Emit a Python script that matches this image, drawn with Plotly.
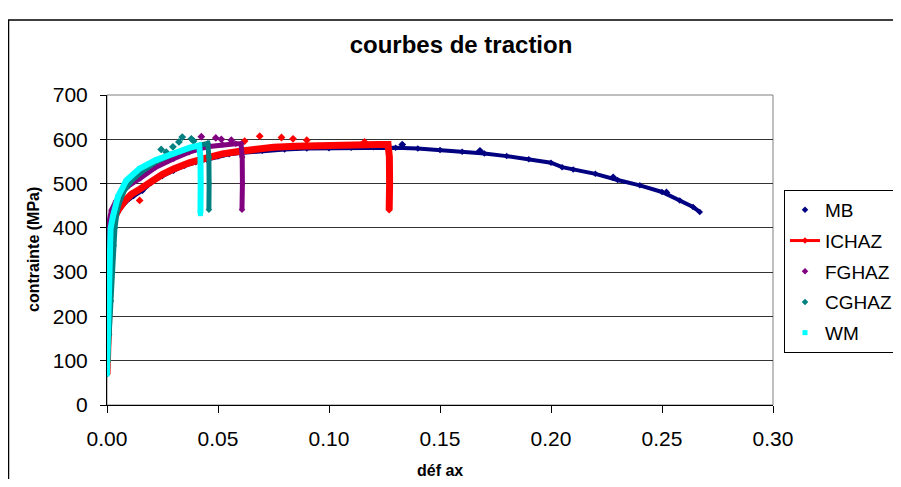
import plotly.graph_objects as go

FONT = "Liberation Sans, Arial, sans-serif"

# ---------------- data ----------------
MB_x = [0.0, 0.0003, 0.0005, 0.0008, 0.0012, 0.0018, 0.0028, 0.005, 0.008, 0.012, 0.016,
        0.02, 0.025, 0.03, 0.035, 0.04, 0.045, 0.05, 0.055, 0.06, 0.07, 0.08, 0.09,
        0.10, 0.11, 0.12, 0.13, 0.14, 0.15, 0.16, 0.17, 0.18, 0.19, 0.20, 0.205,
        0.21, 0.22, 0.23, 0.24, 0.25, 0.258, 0.264, 0.267]
MB_y = [70, 150, 230, 310, 360, 394, 413, 436, 456, 472, 484,
        502, 517, 529, 540, 548, 554, 561, 566, 569, 574, 577, 579,
        580, 581, 582, 581, 579, 576, 572, 568, 562, 555, 547, 537,
        532, 522, 508, 496, 481, 462, 447, 436]
MB_out_x = [0.1330, 0.1680, 0.1050, 0.2280, 0.2520]
MB_out_y = [588, 574, 585, 514, 480]

ICHAZ_x = [0.0, 0.0004, 0.0008, 0.0012, 0.0016, 0.002, 0.003, 0.005, 0.008, 0.011,
           0.015, 0.02, 0.025, 0.03, 0.037, 0.045, 0.052, 0.06, 0.067, 0.075, 0.085,
           0.095, 0.105, 0.115, 0.122, 0.1266, 0.1272, 0.1273, 0.1271]
ICHAZ_y = [70, 150, 240, 320, 370, 398, 418, 440, 461, 476,
           488, 506, 521, 533, 547, 558, 567, 573, 578, 582, 584,
           586, 587, 588, 588, 588, 560, 500, 440]
ICHAZ_out_x = [0.0688, 0.0786, 0.0838, 0.0147, 0.0620, 0.0900, 0.1160]
ICHAZ_out_y = [607, 604, 601, 462, 596, 598, 594]

FGHAZ_x = [0.0, 0.0004, 0.0007, 0.001, 0.002, 0.004, 0.007, 0.01, 0.015, 0.022,
           0.03, 0.037, 0.045, 0.052, 0.058, 0.0604, 0.0609, 0.061, 0.0608]
FGHAZ_y = [70, 200, 340, 415, 440, 460, 482, 496, 512, 537,
           556, 571, 583, 588, 590, 590, 560, 500, 441]
FGHAZ_out_x = [0.0425, 0.0490, 0.0515, 0.0560]
FGHAZ_out_y = [606, 603, 600, 598]

CGHAZ_x = [0.0, 0.0004, 0.001, 0.0018, 0.0025, 0.003, 0.0036, 0.0046, 0.006, 0.008,
           0.011, 0.015, 0.022, 0.03, 0.037, 0.042, 0.0454, 0.0459, 0.046, 0.0459]
CGHAZ_y = [70, 100, 160, 235, 300, 360, 400, 438, 463, 486,
           506, 524, 549, 567, 580, 587, 591, 560, 500, 441]
CGHAZ_out_x = [0.0244, 0.0267, 0.0297, 0.0324, 0.0339, 0.0380, 0.0390]
CGHAZ_out_y = [577, 571, 583, 594, 605, 601, 596]

WM_x = [0.0, 0.0003, 0.0008, 0.0012, 0.0016, 0.0026, 0.0049, 0.0087, 0.0147, 0.022,
        0.0297, 0.0372, 0.0415, 0.0421, 0.0422, 0.0421]
WM_y = [70, 130, 250, 340, 398, 424, 470, 507, 534, 553,
        568, 581, 586, 560, 500, 432]

X_TICKS = [0.0, 0.05, 0.10, 0.15, 0.20, 0.25, 0.30]
X_TICK_LABELS = ["0.00", "0.05", "0.10", "0.15", "0.20", "0.25", "0.30"]
Y_TICKS = [0, 100, 200, 300, 400, 500, 600, 700]
Y_TICK_LABELS = ["0", "100", "200", "300", "400", "500", "600", "700"]

# ---------------- figure ----------------
fig = go.Figure()

series = [
    ("MB", MB_x, MB_y, MB_out_x, MB_out_y, "#000080", 4, "diamond", "markers"),
    ("ICHAZ", ICHAZ_x, ICHAZ_y, ICHAZ_out_x, ICHAZ_out_y, "#FF0000", 7, "diamond", "lines+markers"),
    ("FGHAZ", FGHAZ_x, FGHAZ_y, FGHAZ_out_x, FGHAZ_out_y, "#800080", 5, "diamond", "markers"),
    ("CGHAZ", CGHAZ_x, CGHAZ_y, CGHAZ_out_x, CGHAZ_out_y, "#008080", 5, "diamond", "markers"),
    ("WM", WM_x, WM_y, [], [], "#00FFFF", 6, "square", "markers"),
]

for name, xs, ys, ox, oy, col, lw, sym, lmode in series:
    fig.add_trace(go.Scatter(x=xs, y=ys, mode="lines", name=name, legendgroup=name,
                             showlegend=False, line=dict(color=col, width=lw),
                             hoverinfo="skip"))
    fig.add_trace(go.Scatter(x=xs, y=ys, mode=lmode, name=name, legendgroup=name,
                             showlegend=True, line=dict(color=col, width=3),
                             marker=dict(color=col, size=5, symbol=sym)))
    if ox:
        fig.add_trace(go.Scatter(x=ox, y=oy, mode="markers", name=name, legendgroup=name,
                                 showlegend=False,
                                 marker=dict(color=col, size=6, symbol=sym)))

# The page body has an 8px margin on every side: size the figure so that it
# fits the 901x487 window, and work in page pixels.
OFF = 8
W, H = 901 - 2 * OFF, 487 - 2 * OFF
L = 107 - OFF
T = 95 - OFF
R = W - (773 - OFF)
B = H - (405 - OFF)
PW, PH = W - L - R, H - T - B


def px2x(px):
    return (px - OFF - L) / PW


def py2y(py):
    return (H - B - (py - OFF)) / PH


fx0, fy_top, fy_bot, fx_right = px2x(8.5), py2y(20), py2y(520), px2x(960)
frame_path = f"M {fx0},{fy_bot} L {fx0},{fy_top} L {fx_right},{fy_top}"

fig.update_layout(
    width=W, height=H,
    margin=dict(l=L, r=R, t=T, b=B, autoexpand=False),
    paper_bgcolor="white", plot_bgcolor="white",
    font=dict(family=FONT, color="black", size=21),
    title=dict(text="<b>courbes de traction</b>", x=(461 - OFF) / W, xref="container",
               xanchor="center", y=1 - (45 - OFF) / H, yref="container", yanchor="middle",
               font=dict(family=FONT, size=24, color="black")),
    xaxis=dict(range=[0, 0.30], tickvals=X_TICKS, ticktext=X_TICK_LABELS,
               showgrid=False, zeroline=False, showline=True, linecolor="black",
               linewidth=1, ticks="outside", ticklen=7, tickcolor="black",
               tickfont=dict(family=FONT, size=21), ticklabelstandoff=8),
    yaxis=dict(range=[0, 700], tickvals=Y_TICKS, ticktext=Y_TICK_LABELS,
               showgrid=True, gridcolor="#333333", gridwidth=1, zeroline=False,
               showline=True, linecolor="black", linewidth=1, ticks="outside",
               ticklen=6, tickcolor="black", tickfont=dict(family=FONT, size=21),
               ticklabelstandoff=8),
    legend=dict(x=px2x(784), y=py2y(190), xanchor="left", yanchor="top",
                bordercolor="black", borderwidth=1, bgcolor="white",
                font=dict(family=FONT, size=19), traceorder="grouped",
                tracegroupgap=3),
    showlegend=True,
    shapes=[
        # outer chart frame (left and top sides; the rest lies outside the picture)
        dict(type="path", xref="paper", yref="paper", path=frame_path,
             line=dict(color="black", width=1.5), layer="below"),
        # plot-area frame
        dict(type="rect", xref="paper", yref="paper", x0=0, x1=1, y0=0, y1=1,
             line=dict(color="#808080", width=1), layer="below"),
    ],
    annotations=[
        dict(text="<b>déf ax</b>", xref="paper", yref="paper", x=0.5, y=py2y(470),
             xanchor="center", yanchor="middle", showarrow=False,
             font=dict(family=FONT, size=16, color="black")),
        dict(text="<b>contrainte (MPa)</b>", xref="paper", yref="paper",
             x=px2x(33), y=0.5, xanchor="center", yanchor="middle", textangle=-90,
             showarrow=False, font=dict(family=FONT, size=16, color="black")),
    ],
)

fig.write_html("out.html")
